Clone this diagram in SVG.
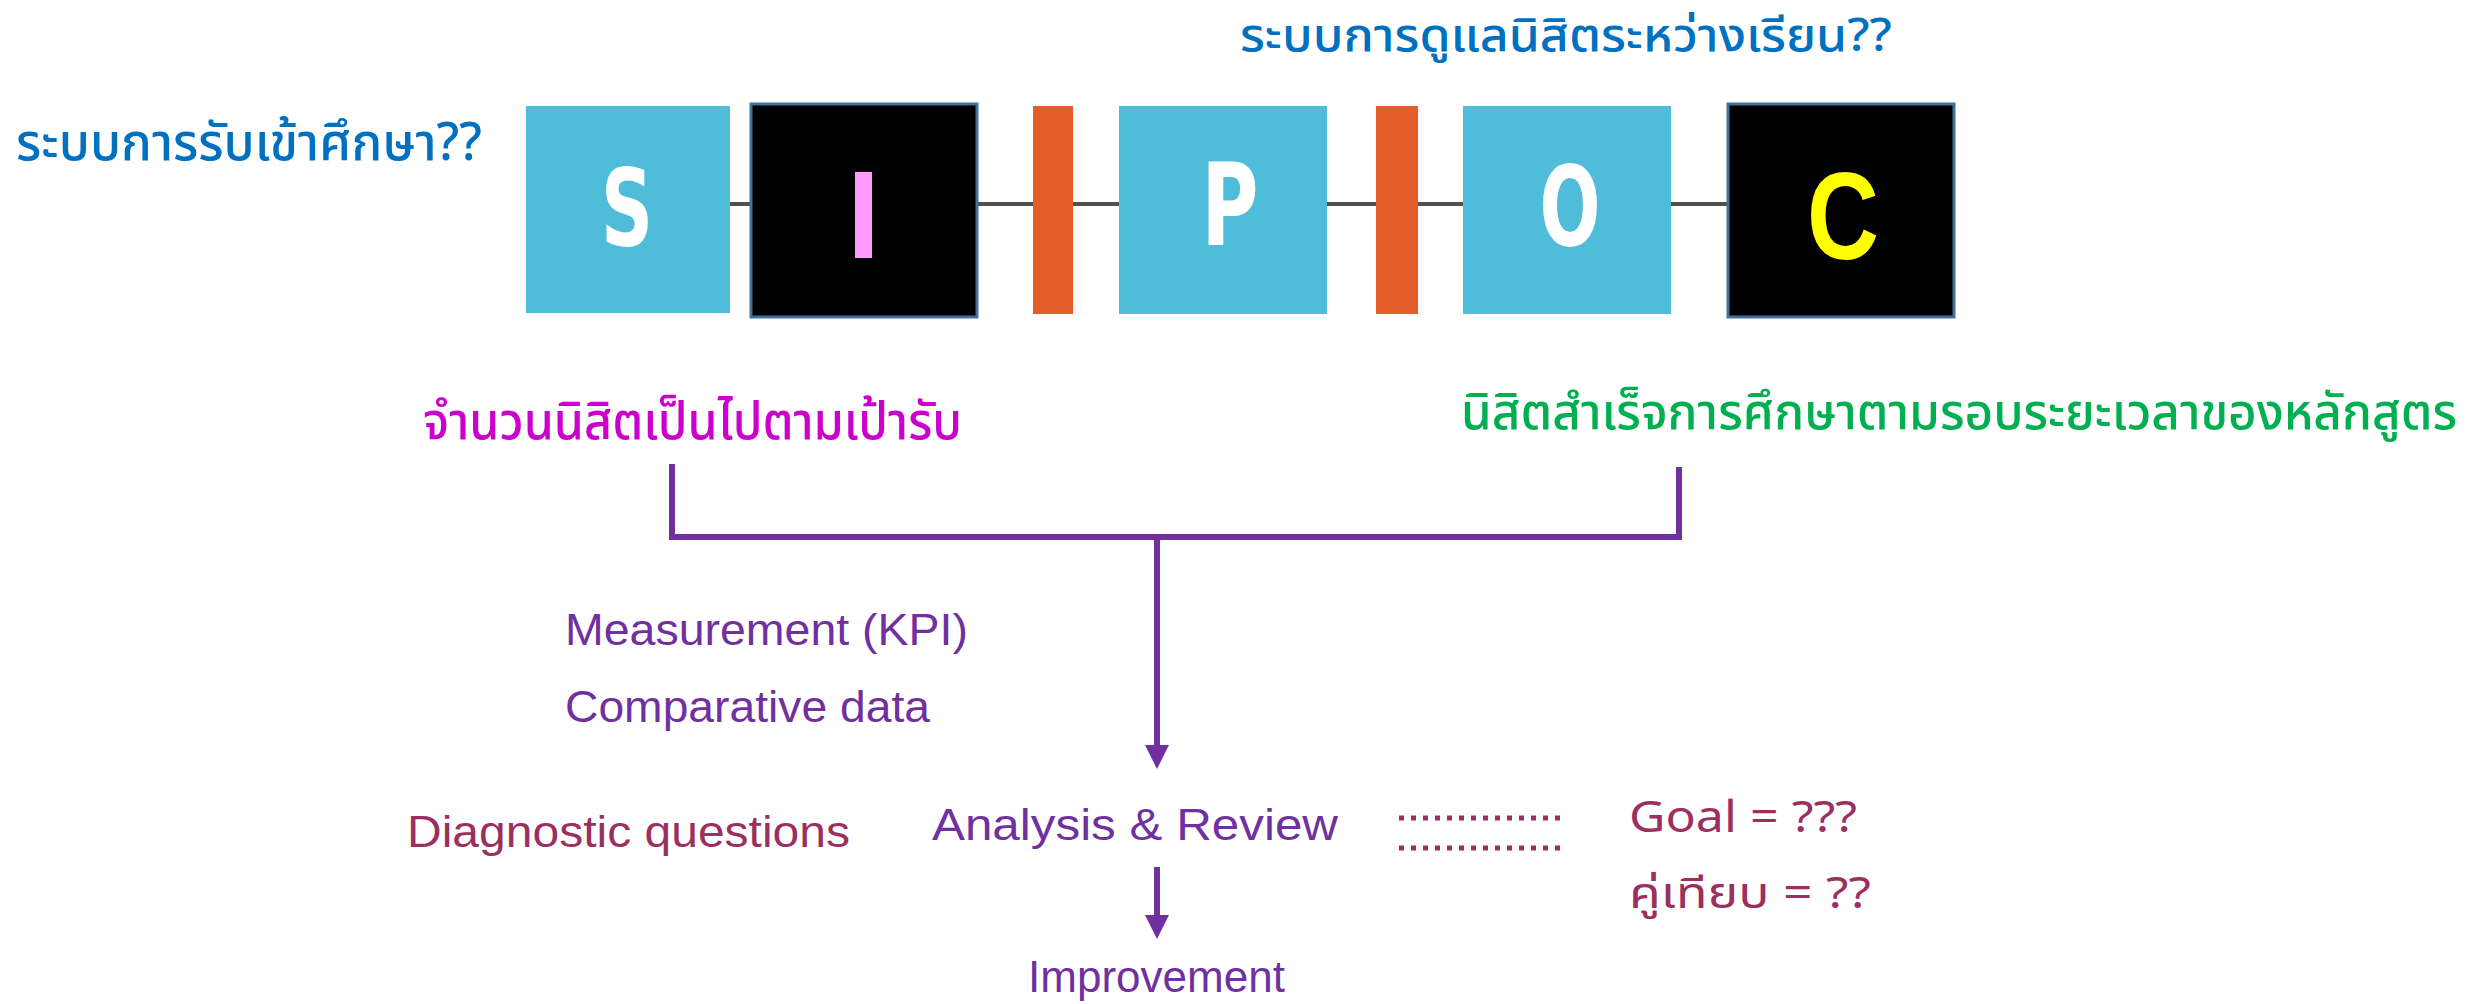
<svg xmlns="http://www.w3.org/2000/svg" width="2473" height="1004" viewBox="0 0 2473 1004">
<style>
.thai{font-family:"Noto Sans Thai","Noto Sans Thai UI","Noto Sans",sans-serif;}
.lat{font-family:"Liberation Sans",Arial,sans-serif;}
.cyan{fill:#4FBDD9;}
.orange{fill:#E55C2B;}
.dark{fill:#000000;stroke:#41719C;stroke-width:3;}
.letter{font-family:"DejaVu Sans","Liberation Sans",sans-serif;font-weight:bold;fill:#FFFFFF;}
.purple{fill:#7030A0;}
.maroon{fill:#9B2F60;}
.conn{stroke:#7030A0;stroke-width:6;fill:none;}
</style>
<defs>
<marker id="ah" markerUnits="userSpaceOnUse" markerWidth="24" markerHeight="24" refX="10" refY="12" orient="auto" viewBox="0 0 24 24">
<path d="M0,0 L24,12 L0,24 Z" fill="#7030A0"/>
</marker>
</defs>
<rect width="2473" height="1004" fill="#FFFFFF"/>

<g id="sipoc-line">
<line x1="730" y1="204" x2="1727" y2="204" stroke="#505050" stroke-width="4"/>
</g>

<g id="node-S">
<rect class="cyan" x="526" y="106" width="204" height="207"/>
<text class="letter" x="627" y="245" font-size="107" text-anchor="middle" textLength="52" lengthAdjust="spacingAndGlyphs">S</text>
</g>
<g id="node-I">
<rect class="dark" x="751" y="104" width="226" height="213"/>
<rect x="855" y="172" width="17" height="86" fill="#FF99FF"/>
</g>
<g id="bar-1"><rect class="orange" x="1033" y="106" width="40" height="208"/></g>
<g id="node-P">
<rect class="cyan" x="1119" y="106" width="208" height="208"/>
<text class="letter" x="1230" y="245" font-size="114" text-anchor="middle" textLength="57" lengthAdjust="spacingAndGlyphs">P</text>
</g>
<g id="bar-2"><rect class="orange" x="1376" y="106" width="42" height="208"/></g>
<g id="node-O">
<rect class="cyan" x="1463" y="106" width="208" height="208"/>
<text class="letter" x="1570" y="245" font-size="110" text-anchor="middle" textLength="61" lengthAdjust="spacingAndGlyphs">O</text>
</g>
<g id="node-C">
<rect class="dark" x="1728" y="104" width="226" height="213"/>
<text x="1843" y="259" font-size="124" text-anchor="middle" font-family="Liberation Sans, Arial, sans-serif" font-weight="bold" fill="#FFFF00" textLength="72" lengthAdjust="spacingAndGlyphs">C</text>
</g>

<g id="label-admission">
<text class="thai" x="16" y="160" font-size="52" font-weight="500" fill="#0070C0" textLength="466" lengthAdjust="spacingAndGlyphs">ระบบการรับเข้าศึกษา??</text>
</g>
<g id="label-care">
<text class="thai" x="1240" y="51" font-size="46" font-weight="500" fill="#0070C0" textLength="652" lengthAdjust="spacingAndGlyphs">ระบบการดูแลนิสิตระหว่างเรียน??</text>
</g>
<g id="label-target">
<text class="thai" x="423" y="439" font-size="52" font-weight="500" fill="#CC00CC" textLength="539" lengthAdjust="spacingAndGlyphs">จำนวนนิสิตเป็นไปตามเป้ารับ</text>
</g>
<g id="label-graduate">
<text class="thai" x="2457" y="429" font-size="50" font-weight="500" fill="#00B050" text-anchor="end" textLength="996" lengthAdjust="spacingAndGlyphs">นิสิตสำเร็จการศึกษาตามรอบระยะเวลาของหลักสูตร</text>
</g>

<g id="connectors">
<polyline class="conn" points="672,464 672,537 1679,537 1679,467"/>
<line class="conn" x1="1157" y1="537" x2="1157" y2="755" marker-end="url(#ah)" stroke-width="5"/>
<line class="conn" x1="1157" y1="867" x2="1157" y2="925" marker-end="url(#ah)" stroke-width="5"/>
<line x1="1399" y1="818" x2="1563" y2="818" stroke="#9B2F60" stroke-width="5" stroke-dasharray="5,7"/>
<line x1="1399" y1="848" x2="1563" y2="848" stroke="#9B2F60" stroke-width="5" stroke-dasharray="5,7"/>
</g>

<g id="label-measurement">
<text class="lat purple" x="565" y="645" font-size="45" textLength="403" lengthAdjust="spacingAndGlyphs">Measurement (KPI)</text>
</g>
<g id="label-comparative">
<text class="lat purple" x="565" y="722" font-size="45" textLength="365" lengthAdjust="spacingAndGlyphs">Comparative data</text>
</g>
<g id="label-diagnostic">
<text class="lat maroon" x="407" y="847" font-size="45" textLength="443" lengthAdjust="spacingAndGlyphs">Diagnostic questions</text>
</g>
<g id="node-analysis">
<text class="lat purple" x="932" y="840" font-size="45" textLength="406" lengthAdjust="spacingAndGlyphs">Analysis &amp; Review</text>
</g>
<g id="node-improvement">
<text class="lat purple" x="1028" y="992" font-size="45" textLength="257" lengthAdjust="spacingAndGlyphs">Improvement</text>
</g>
<g id="label-goal">
<text class="thai maroon" x="1629" y="832" font-size="43" textLength="228" lengthAdjust="spacingAndGlyphs">Goal = ???</text>
</g>
<g id="label-benchmark">
<text class="thai maroon" x="1629" y="908" font-size="43" textLength="242" lengthAdjust="spacingAndGlyphs">คู่เทียบ = ??</text>
</g>
</svg>
